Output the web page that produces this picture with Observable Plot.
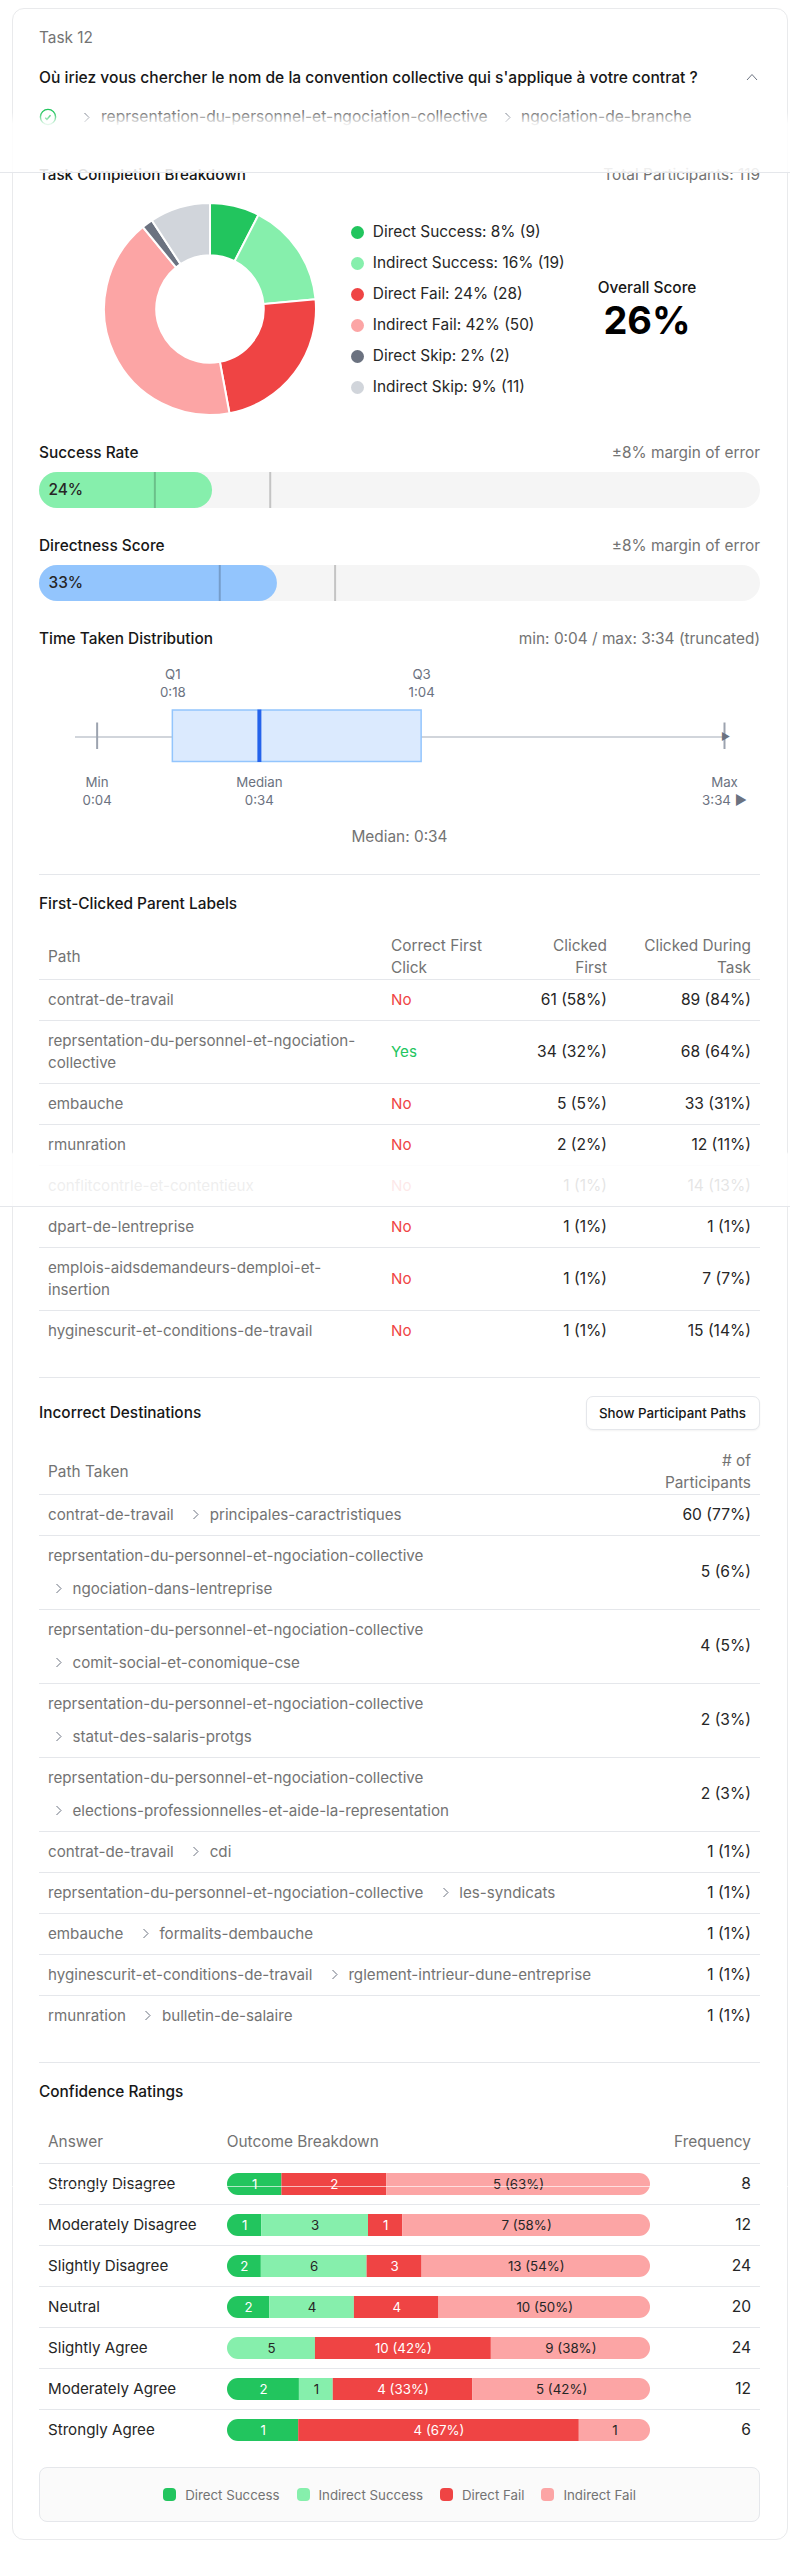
<!DOCTYPE html>
<html>
<head>
<meta charset="utf-8">
<script src="https://cdn.jsdelivr.net/npm/d3@7"></script>
<script src="https://cdn.jsdelivr.net/npm/@observablehq/plot@0.6"></script>
<style>
html,body{margin:0;padding:0;background:#fff;}
#page{position:relative;width:790px;height:2560px;overflow:hidden;font-family:Inter,"Noto Sans",sans-serif;font-size:15.4px;color:#171717;background:#fff;}
#card{position:absolute;left:12px;top:8px;width:776px;height:2532px;box-sizing:border-box;border:1px solid #e9eaec;border-radius:12px;}
.t{position:absolute;white-space:nowrap;transform:translateY(-50%);line-height:1.2;}
.abs{position:absolute;}
.rule{position:absolute;left:39px;width:721px;height:1px;background:#e5e7eb;}
table{position:absolute;left:39px;width:721px;border-collapse:separate;border-spacing:0;table-layout:fixed;font-size:15.15px;}
th{font-weight:400;font-size:15.4px;color:#737373;text-align:left;padding:0 9px;line-height:22px;box-sizing:border-box;border-bottom:1px solid #e5e7eb;vertical-align:middle;white-space:nowrap;}
td{padding:0 9px;line-height:22px;box-sizing:border-box;border-bottom:1px solid #e5e7eb;vertical-align:middle;color:#262626;white-space:nowrap;}
td.r{font-size:15.6px;}
tr:last-child td{border-bottom:none;}
.r{text-align:right;}
.path{color:#737373;}
.band{position:absolute;left:0;width:790px;border-bottom:1px solid #e5e7eb;z-index:10;pointer-events:none;}
.sep{display:inline-block;width:24.5px;height:14px;position:relative;vertical-align:-2px;}
.sep svg{position:absolute;left:7px;top:1px;}
.sep.inl{margin-left:11.5px;}
.line2{line-height:33px;display:block;white-space:nowrap;}
td.cell-bar{padding:0;}
</style>
</head>
<body>
<div id="page"><div id="card"></div></div>
<script>
// ---------- data ----------
const taskLabel = "Task 12";
const question = "Où iriez vous chercher le nom de la convention collective qui s'applique à votre contrat ?";
const correctPath = ["reprsentation-du-personnel-et-ngociation-collective", "ngociation-de-branche"];

const outcomeNames = ["Direct Success", "Indirect Success", "Direct Fail", "Indirect Fail", "Direct Skip", "Indirect Skip"];
const outcomeCounts = [9, 19, 28, 50, 2, 11];
const outcomePercents = [8, 16, 24, 42, 2, 9];
const outcomeColors = ["#22c55e", "#86efac", "#ef4444", "#fca5a5", "#6b7280", "#d1d5db"];
const totalParticipants = 119;
const overallScore = 26;

const successRate = 24;
const directnessScore = 33;
const marginOfError = 8;

const timeStats = {min: 4, q1: 18, median: 34, q3: 64, max: 214};
const timeAxisEnd = 120;

const firstPaths = [["contrat-de-travail"], ["reprsentation-du-personnel-et-ngociation-", "collective"], ["embauche"], ["rmunration"], ["conflitcontrle-et-contentieux"], ["dpart-de-lentreprise"], ["emplois-aidsdemandeurs-demploi-et-", "insertion"], ["hyginescurit-et-conditions-de-travail"]];
const firstCorrect = ["No", "Yes", "No", "No", "No", "No", "No", "No"];
const firstClicked = ["61 (58%)", "34 (32%)", "5 (5%)", "2 (2%)", "1 (1%)", "1 (1%)", "1 (1%)", "1 (1%)"];
const duringClicked = ["89 (84%)", "68 (64%)", "33 (31%)", "12 (11%)", "14 (13%)", "1 (1%)", "7 (7%)", "15 (14%)"];

const wrongParents = ["contrat-de-travail", "reprsentation-du-personnel-et-ngociation-collective", "reprsentation-du-personnel-et-ngociation-collective", "reprsentation-du-personnel-et-ngociation-collective", "reprsentation-du-personnel-et-ngociation-collective", "contrat-de-travail", "reprsentation-du-personnel-et-ngociation-collective", "embauche", "hyginescurit-et-conditions-de-travail", "rmunration"];
const wrongLeaves = ["principales-caractristiques", "ngociation-dans-lentreprise", "comit-social-et-conomique-cse", "statut-des-salaris-protgs", "elections-professionnelles-et-aide-la-representation", "cdi", "les-syndicats", "formalits-dembauche", "rglement-intrieur-dune-entreprise", "bulletin-de-salaire"];
const wrongWrapped = [false, true, true, true, true, false, false, false, false, false];
const wrongCounts = ["60 (77%)", "5 (6%)", "4 (5%)", "2 (3%)", "2 (3%)", "1 (1%)", "1 (1%)", "1 (1%)", "1 (1%)", "1 (1%)"];

const answers = ["Strongly Disagree", "Moderately Disagree", "Slightly Disagree", "Neutral", "Slightly Agree", "Moderately Agree", "Strongly Agree"];
const directSuccess = [1, 1, 2, 2, 0, 2, 1];
const indirectSuccess = [0, 3, 6, 4, 5, 1, 0];
const directFail = [2, 1, 3, 4, 10, 4, 4];
const indirectFail = [5, 7, 13, 10, 9, 5, 1];
const frequency = [8, 12, 24, 20, 24, 12, 6];
const breakdownNames = outcomeNames.slice(0, 4);
const breakdownColors = outcomeColors.slice(0, 4);

// ---------- helpers ----------
const FONT = 'Inter, "Noto Sans", sans-serif';
const BASE = 15.4, SMALL = 13.3, MUTED = "#737373";
const page = document.getElementById("page");
function T(str, x, y, o = {}) {
  const d = document.createElement("div");
  d.className = "t";
  d.textContent = str;
  d.style.top = y + "px";
  d.style.fontSize = (o.size || BASE) + "px";
  d.style.fontWeight = o.weight || 400;
  d.style.color = o.color || "#171717";
  if (o.align === "right") d.style.right = (790 - x) + "px";
  else if (o.align === "center") { d.style.left = x + "px"; d.style.transform = "translate(-50%,-50%)"; }
  else d.style.left = x + "px";
  page.appendChild(d);
  return d;
}
function R(y) { const d = document.createElement("div"); d.className = "rule"; d.style.top = y + "px"; page.appendChild(d); }
function put(node, x, y) { node.style.position = "absolute"; node.style.left = x + "px"; node.style.top = y + "px"; page.appendChild(node); return node; }
function band(top, h, grad) {
  const d = document.createElement("div"); d.className = "band";
  d.style.top = top + "px"; d.style.height = h + "px";
  d.style.background = `linear-gradient(rgba(255,255,255,0) 0, rgba(255,255,255,.88) ${grad}px)`;
  page.appendChild(d);
}
function icon(html, x, y) { const d = document.createElement("div"); d.className = "abs"; d.style.left = x + "px"; d.style.top = y + "px"; d.style.lineHeight = 0; d.innerHTML = html; page.appendChild(d); }
const chev = `<svg width="8" height="11" viewBox="0 0 8 11" fill="none" stroke="#6b7280" stroke-width="1"><path d="M1.5 1l4.5 4.5L1.5 10"/></svg>`;

// ---------- header ----------
T(taskLabel, 39, 38, {color: MUTED});
T(question, 39, 78, {weight: 500, size: 15.6});
icon(`<svg width="12" height="8" viewBox="0 0 12 8" fill="none" stroke="#6b7280" stroke-width="1"><path d="M1 7l5-5.5L11 7"/></svg>`, 746, 73);
icon(`<svg width="18" height="18" viewBox="0 0 18 18" fill="none" stroke="#22c55e" stroke-width="1.4"><circle cx="9" cy="9" r="7.6"/><path d="M6.3 9.8l1.6 1.6 3.6-4.2"/></svg>`, 39, 108);
icon(chev, 83, 112);
T(correctPath[0], 101, 117, {color: MUTED, size: 15.6});
icon(chev, 504, 112);
T(correctPath[1], 521, 117, {color: MUTED, size: 15.6});

// ---------- completion donut ----------
T("Task Completion Breakdown", 39, 175, {weight: 500, size: 15.2});
T("Total Participants: " + totalParticipants, 760, 175, {color: MUTED, align: "right"});
const slices = outcomeNames.map((name, i) => ({name, count: outcomeCounts[i]}));
function donutMark(index, scales, values, dims) {
  const g = d3.create("svg:g").attr("aria-label", "donut");
  const cx = dims.width / 2, cy = dims.height / 2, outer = Math.min(cx, cy);
  const arcs = d3.pie().sort(null).value(d => d.count)(slices);
  const arc = d3.arc().innerRadius(outer * 0.507).outerRadius(outer);
  g.attr("transform", `translate(${cx},${cy})`);
  g.selectAll("path").data(arcs).join("path")
    .attr("d", arc)
    .attr("fill", d => outcomeColors[outcomeNames.indexOf(d.data.name)])
    .attr("stroke", "#fff").attr("stroke-width", 2);
  return g.node();
}
put(Plot.plot({width: 212, height: 212, margin: 0, style: {background: "transparent"}, marks: [donutMark]}), 103.5, 202.7);
outcomeNames.forEach((name, i) => {
  const y = 232.3 + i * 30.95;
  const dot = document.createElement("div");
  dot.style.cssText = `position:absolute;left:350.5px;top:${y - 6.5}px;width:13px;height:13px;border-radius:50%;background:${outcomeColors[i]}`;
  page.appendChild(dot);
  T(`${name}: ${outcomePercents[i]}% (${outcomeCounts[i]})`, 372.8, y, {color: "#262626"});
});
T("Overall Score", 647, 288, {align: "center", weight: 500});
T(overallScore + "%", 647, 321, {align: "center", weight: 700, size: 38, color: "#000"});

// ---------- rate bars ----------
function rateBar(value, color) {
  return Plot.plot({
    width: 721, height: 36, margin: 0,
    x: {domain: [0, 100], axis: null},
    style: {fontFamily: FONT, background: "transparent"},
    marks: [
      Plot.barX([100], {x1: () => 0, x2: d => d, fill: "#f5f5f5", rx: 18}),
      Plot.barX([value], {x1: () => 0, x2: d => d, fill: color, rx: 18}),
      Plot.ruleX([value - marginOfError, value + marginOfError], {stroke: "#000", strokeOpacity: 0.2, strokeWidth: 2}),
      Plot.text([value], {x: () => 0, dx: 9, frameAnchor: "middle", textAnchor: "start", text: d => d + "%", fontSize: BASE, fontWeight: 500, fill: "#262626"})
    ]
  });
}
T("Success Rate", 39, 453, {weight: 500});
T(`±${marginOfError}% margin of error`, 760, 453, {color: MUTED, align: "right"});
put(rateBar(successRate, "#86efac"), 39, 472);
T("Directness Score", 39, 546, {weight: 500});
T(`±${marginOfError}% margin of error`, 760, 546, {color: MUTED, align: "right"});
put(rateBar(directnessScore, "#93c5fd"), 39, 565);

// ---------- time box plot ----------
T("Time Taken Distribution", 39, 638.7, {weight: 500});
const fmt = s => Math.floor(s / 60) + ":" + String(s % 60).padStart(2, "0");
T(`min: ${fmt(timeStats.min)} / max: ${fmt(timeStats.max)} (truncated)`, 760, 638.7, {color: MUTED, align: "right"});
const shown = v => Math.min(v, timeAxisEnd);
const upperLabels = [{k: "Q1", v: timeStats.q1}, {k: "Q3", v: timeStats.q3}];
const lowerLabels = [{k: "Min", v: timeStats.min, s: fmt(timeStats.min)}, {k: "Median", v: timeStats.median, s: fmt(timeStats.median)}, {k: "Max", v: timeStats.max, s: fmt(timeStats.max) + " ▶"}];
put(Plot.plot({
  width: 790, height: 155, marginLeft: 75, marginRight: 66, marginTop: 0, marginBottom: 0,
  x: {domain: [0, timeAxisEnd], axis: null},
  y: {domain: [-1, 1], axis: null},
  style: {fontFamily: FONT, background: "transparent"},
  marks: [
    Plot.ruleY([0], {x1: () => 0, x2: () => shown(timeStats.max), stroke: "#d1d5db", strokeWidth: 2}),
    Plot.ruleX([timeStats.min, shown(timeStats.max)], {stroke: "#9ca3af", strokeWidth: 2, insetTop: 63.5, insetBottom: 65}),
    Plot.barX([timeStats], {x1: "q1", x2: "q3", fill: "#dbeafe", stroke: "#93c5fd", strokeWidth: 1.5, insetTop: 51, insetBottom: 52.5}),
    Plot.ruleX([timeStats.median], {stroke: "#2563eb", strokeWidth: 4, insetTop: 50.5, insetBottom: 52}),
    Plot.text([shown(timeStats.max)], {x: d => d, y: () => 0, text: () => "▶", fontSize: 10, fill: "#6b7280", dx: 1}),
    Plot.text(upperLabels, {x: "v", y: () => 0, dy: -62, text: "k", fontSize: SMALL, fill: "#6b7280"}),
    Plot.text(upperLabels, {x: "v", y: () => 0, dy: -44.4, text: d => fmt(d.v), fontSize: SMALL, fill: "#6b7280"}),
    Plot.text(lowerLabels, {x: d => shown(d.v), y: () => 0, dy: 46, text: "k", fontSize: SMALL, fill: "#6b7280"}),
    Plot.text(lowerLabels, {x: d => shown(d.v), y: () => 0, dy: 63.6, text: "s", fontSize: SMALL, fill: "#6b7280"})
  ]
}), 0, 659.2);
T("Median: " + fmt(timeStats.median), 399.5, 837, {align: "center", color: MUTED});
R(874);

// ---------- first-clicked table ----------
T("First-Clicked Parent Labels", 39, 904.3, {weight: 500});
const t1 = document.createElement("table");
t1.style.top = "934.5px";
t1.innerHTML = `<colgroup><col style="width:343px"><col style="width:125px"><col style="width:109px"><col style="width:144px"></colgroup>
<thead><tr style="height:45px"><th>Path</th><th>Correct First<br>Click</th><th class="r">Clicked<br>First</th><th class="r">Clicked During<br>Task</th></tr></thead>
<tbody>${firstPaths.map((p, i) => `<tr style="height:${p.length > 1 ? 63 : 41}px"><td class="path">${p.join("<br>")}</td><td style="color:${firstCorrect[i] === "Yes" ? "#22c55e" : "#ef4444"}">${firstCorrect[i]}</td><td class="r">${firstClicked[i]}</td><td class="r">${duringClicked[i]}</td></tr>`).join("")}</tbody>`;
page.appendChild(t1);
band(1152, 54, 2);
R(1376.5);

// ---------- incorrect destinations ----------
T("Incorrect Destinations", 39, 1413, {weight: 500});
const btn = document.createElement("div");
btn.textContent = "Show Participant Paths";
btn.style.cssText = `position:absolute;left:585.5px;top:1395.5px;width:174px;height:34px;box-sizing:border-box;border:1px solid #e5e7eb;border-radius:7px;display:flex;align-items:center;justify-content:center;font-size:${SMALL}px;font-weight:500;color:#171717;box-shadow:0 1px 2px rgba(0,0,0,.05);background:#fff;`;
page.appendChild(btn);
const t2 = document.createElement("table");
t2.style.top = "1449.5px";
t2.innerHTML = `<colgroup><col><col style="width:130px"></colgroup>
<thead><tr style="height:45px"><th>Path Taken</th><th class="r"># of<br>Participants</th></tr></thead>
<tbody>${wrongParents.map((p, i) => {
  const sepEl = c => `<span class="sep ${c}">${chev}</span>`;
  const cell = wrongWrapped[i]
    ? `<span class="line2">${p}</span><span class="line2">${sepEl("")}${wrongLeaves[i]}</span>`
    : `<span style="white-space:nowrap">${p}${sepEl("inl")}${wrongLeaves[i]}</span>`;
  return `<tr style="height:${wrongWrapped[i] ? 74 : 41}px"><td class="path">${cell}</td><td class="r">${wrongCounts[i]}</td></tr>`;
}).join("")}</tbody>`;
page.appendChild(t2);
R(2061.5);

// ---------- confidence ratings ----------
T("Confidence Ratings", 39, 2091.7, {weight: 500});
const t3 = document.createElement("table");
t3.style.top = "2121.5px";
t3.innerHTML = `<colgroup><col style="width:187.7px"><col style="width:423px"><col></colgroup>
<thead><tr style="height:42px"><th>Answer</th><th style="padding-left:0">Outcome Breakdown</th><th class="r">Frequency</th></tr></thead>
<tbody>${answers.map((a, i) => `<tr style="height:41px"><td>${a}</td><td class="cell-bar" id="bar${i}"></td><td class="r">${frequency[i]}</td></tr>`).join("")}</tbody>`;
page.appendChild(t3);

function breakdownBar(i) {
  const counts = [directSuccess[i], indirectSuccess[i], directFail[i], indirectFail[i]];
  const parts = counts.map((count, k) => {
    const pct = Math.round(100 * count / frequency[i]);
    return {outcome: breakdownNames[k], count, pct, label: pct >= 30 ? `${count} (${pct}%)` : String(count), dark: k === 0 || k === 2};
  }).filter(d => d.count > 0);
  const stack = o => Plot.stackX({x: "pct", offset: "normalize", order: null, ...o});
  return Plot.plot({
    width: 423, height: 22, margin: 0,
    x: {domain: [0, 1], axis: null},
    color: {domain: breakdownNames, range: breakdownColors},
    style: {fontFamily: FONT, display: "block", borderRadius: "11px", background: "transparent"},
    marks: [
      Plot.barX(parts, stack({fill: "outcome"})),
      Plot.text(parts, stack({text: d => d.dark ? d.label : null, fill: "#fff", fontSize: SMALL, frameAnchor: "middle"})),
      Plot.text(parts, stack({text: d => d.dark ? null : d.label, fill: "#262626", fontSize: SMALL, frameAnchor: "middle"}))
    ]
  });
}
answers.forEach((a, i) => document.getElementById("bar" + i).appendChild(breakdownBar(i)));

// ---------- legend ----------
const legend = document.createElement("div");
legend.style.cssText = `position:absolute;left:39px;top:2467.3px;width:721px;height:54.5px;box-sizing:border-box;border:1px solid #e5e7eb;border-radius:8px;background:#fafafa;display:flex;align-items:center;justify-content:center;gap:17px;font-size:${SMALL}px;color:${MUTED};`;
legend.innerHTML = breakdownNames.map((n, i) => `<span style="display:flex;align-items:center;gap:9px"><span style="width:13px;height:13px;border-radius:4px;background:${breakdownColors[i]}"></span>${n}</span>`).join("");
page.appendChild(legend);

// ---------- capture seams ----------
band(112, 60, 12);
const seam = document.createElement("div");
seam.style.cssText = "position:absolute;left:0;top:2186px;width:790px;height:1px;background:rgba(255,255,255,.65);z-index:10;";
page.appendChild(seam);
</script>
</body>
</html>
